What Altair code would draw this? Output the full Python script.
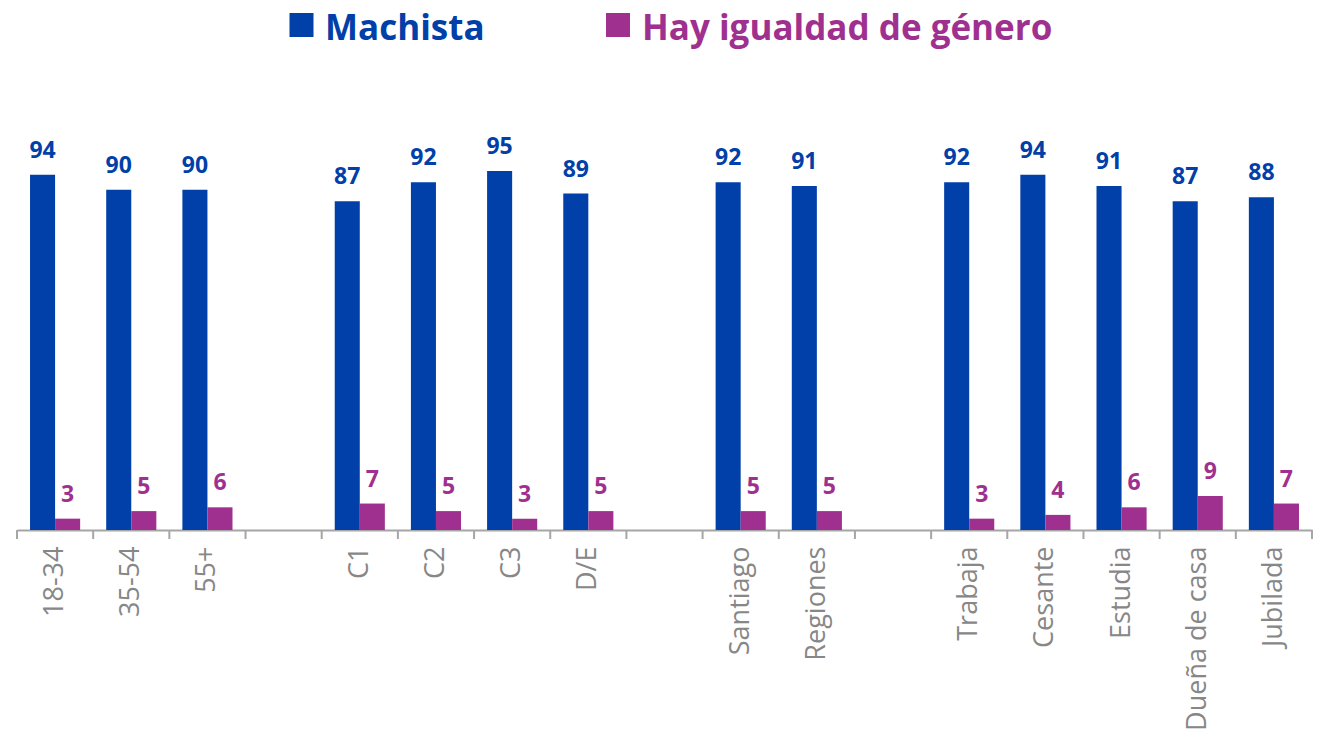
import altair as alt
import pandas as pd

# ---- data ----
slots = ["18-34", "35-54", "55+", "gap1", "C1", "C2", "C3", "D/E", "gap2",
         "Santiago", "Regiones", "gap3", "Trabaja", "Cesante", "Estudia",
         "Dueña de casa", "Jubilada"]
categories = ["18-34", "35-54", "55+", "C1", "C2", "C3", "D/E", "Santiago",
              "Regiones", "Trabaja", "Cesante", "Estudia", "Dueña de casa", "Jubilada"]
series = ["Machista", "Hay igualdad de género"]
machista = [94, 90, 90, 87, 92, 95, 89, 92, 91, 92, 94, 91, 87, 88]
igualdad = [3, 5, 6, 7, 5, 3, 5, 5, 5, 3, 4, 6, 9, 7]
colors = ["#0040A8", "#A0308F"]

rows = []
for c, m, g in zip(categories, machista, igualdad):
    rows.append({"cat": c, "series": series[0], "value": m})
    rows.append({"cat": c, "series": series[1], "value": g})
df = pd.DataFrame(rows)
slot_df = pd.DataFrame({"cat": slots})

W, H = 1295, 378
FONT = "Open Sans"
GREY = "#A6A6A6"

xscale = alt.Scale(domain=slots, paddingInner=0, paddingOuter=0)
yscale = alt.Scale(domain=[0, 100])
cscale = alt.Scale(domain=series, range=colors)
offscale = alt.Scale(domain=series, paddingInner=0, paddingOuter=0.52)

base = alt.Chart(df)

bars = base.mark_bar().encode(
    x=alt.X("cat:N", scale=xscale, sort=slots, title=None,
            axis=alt.Axis(labelAngle=-90, labelAlign="right", labelBaseline="middle",
                          labelPadding=16, labelFont=FONT, labelFontSize=27,
                          labelColor="#878787", ticks=False, domainColor=GREY,
                          domainWidth=2, labelLimit=400,
                          labelExpr="indexof(datum.label, 'gap') == 0 ? '' : datum.label")),
    xOffset=alt.XOffset("series:N", sort=series, scale=offscale),
    y=alt.Y("value:Q", scale=yscale, axis=None),
    color=alt.Color("series:N", scale=cscale, legend=None),
)

labels = base.mark_text(font=FONT, fontSize=23, fontWeight="bold",
                        baseline="alphabetic", dy=-17).encode(
    x=alt.X("cat:N", scale=xscale, sort=slots),
    xOffset=alt.XOffset("series:N", sort=series, scale=offscale),
    y=alt.Y("value:Q", scale=yscale),
    text=alt.Text("value:Q", format="d"),
    color=alt.Color("series:N", scale=cscale, legend=None),
)

ticks = alt.Chart(slot_df).mark_rule(color=GREY, strokeWidth=2).encode(
    x=alt.X("cat:N", scale=xscale, sort=slots, bandPosition=0),
    y=alt.value(H), y2=alt.value(H + 9),
)
end_tick = alt.Chart(slot_df.head(1)).mark_rule(color=GREY, strokeWidth=2).encode(
    x=alt.value(W), y=alt.value(H), y2=alt.value(H + 9),
)

# manual legend
legend_layers = []
leg_pos = [(284.5, 308), (601, 625)]
for i, s in enumerate(series):
    ldf = pd.DataFrame({"s": [s]})
    sq = alt.Chart(ldf).mark_square(size=576, opacity=1, color=colors[i]).encode(
        x=alt.value(leg_pos[i][0]), y=alt.value(-127))
    tx = alt.Chart(ldf).mark_text(font=FONT, fontSize=35, fontWeight="bold",
                                  align="left", baseline="middle", color=colors[i]).encode(
        x=alt.value(leg_pos[i][1]), y=alt.value(-123), text="s:N")
    legend_layers += [sq, tx]

chart = alt.layer(bars, labels, ticks, end_tick, *legend_layers).properties(
    width=W, height=H,
    autosize=alt.AutoSizeParams(type="none"),
    padding={"left": 9, "top": 144, "right": 4, "bottom": 200},
).configure_view(stroke=None)

chart.save("out.html", embed_options={"renderer": "svg", "actions": False})
